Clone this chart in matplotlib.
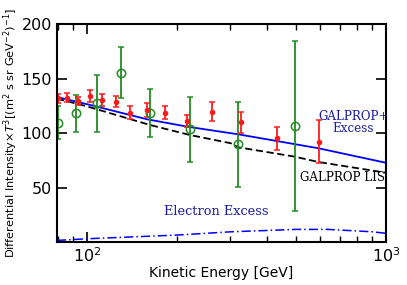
import matplotlib
matplotlib.use("Agg")
import matplotlib.pyplot as plt
import numpy as np

# Red data (filled)
red_E = [80.3, 86, 93.7, 102.6, 112.8, 125, 139.7, 158.9, 183, 216.7, 262.6, 328.8, 431.6, 595.5]
red_y = [131.8, 132.4, 129.4, 134.2, 130.0, 128.7, 118.6, 121.1, 118.6, 111.3, 119.5, 109.8, 95.1, 92.0]
red_err = [4, 4, 4, 5.5, 5.5, 5, 5.8, 6, 6, 5.5, 8.5, 9.6, 10.7, 19.5]

# Green data (open)
green_E = [80.3, 92, 108, 130.4, 163, 221, 320.7, 496]
green_y = [109.5, 118.1, 127.3, 155.3, 118.1, 103.4, 89.6, 106.4]
green_err = [15, 16.8, 26, 23.4, 22, 30, 38.7, 78]

# GALPROP + Excess (solid blue)
tot_E = [79.5, 100, 159, 217, 321, 595, 1000]
tot_y = [133.0, 126.5, 112.6, 105.8, 98.8, 86.0, 72.7]

# GALPROP LIS (dashed black)
lis_E = [79.5, 100, 163, 221, 303, 321, 496, 595, 1000]
lis_y = [131.5, 124.5, 107.3, 98.2, 90.6, 86.9, 78.3, 73.4, 63.6]

# Electron excess (dash-dot blue)
exc_E = [79.5, 100, 200, 303, 500, 640, 900, 1000]
exc_y = [1.5, 3.0, 6.4, 9.4, 11.6, 11.6, 9.4, 8.0]

fig = plt.figure(figsize=(4.07, 2.85), dpi=100)
ax = fig.add_axes([57/407, 1 - 241.5/285, (386-57)/407, (241.5-24)/285])

ax.plot(tot_E, tot_y, color='#0000ff', lw=1.3)
ax.plot(lis_E, lis_y, color='black', lw=1.3, ls=(0, (4, 2)))
ax.plot(exc_E, exc_y, color='#0000ff', lw=1.1, ls=(0, (6, 2, 1, 2)))

ax.errorbar(green_E, green_y, yerr=green_err, fmt='o', mfc='none', mec='#228b22',
            ecolor='#228b22', ms=6, mew=1.1, elinewidth=1.3, capsize=2.5, capthick=1.1)
ax.errorbar(red_E, red_y, yerr=red_err, fmt='o', color='#ff1a1a', ms=3,
            elinewidth=1.3, capsize=2.5, capthick=1.1)

ax.set_xscale('log')
ax.set_xlim(79.5, 1000)
ax.set_ylim(0.5, 200)
ax.set_yticks([50, 100, 150, 200])
ax.tick_params(which='both', direction='in', top=True, right=True, labelsize=11.5)
ax.tick_params(which='major', length=7, width=1.2)
ax.tick_params(which='minor', length=4, width=1.0)
for s in ax.spines.values():
    s.set_linewidth(1.5)

ax.set_xlabel('Kinetic Energy [GeV]', fontsize=10, labelpad=1)
ax.set_ylabel(r'Differential Intensity$\times T^3$[(m$^2$ s sr GeV$^{-2}$)$^{-1}$]', fontsize=8.2, labelpad=1)

tc = '#1c1ca0'
ax.text(777, 109.5, 'GALPROP+\nExcess', color=tc, family='DejaVu Serif', fontsize=8.6,
        ha='center', va='center', linespacing=0.95)
ax.text(713, 59, 'GALPROP LIS', color='black', family='DejaVu Serif', fontsize=8.6,
        ha='center', va='center')
ax.text(270, 28.4, 'Electron Excess', color=tc, family='DejaVu Serif', fontsize=9.3,
        ha='center', va='center')

fig.savefig('out.png', dpi=100)
